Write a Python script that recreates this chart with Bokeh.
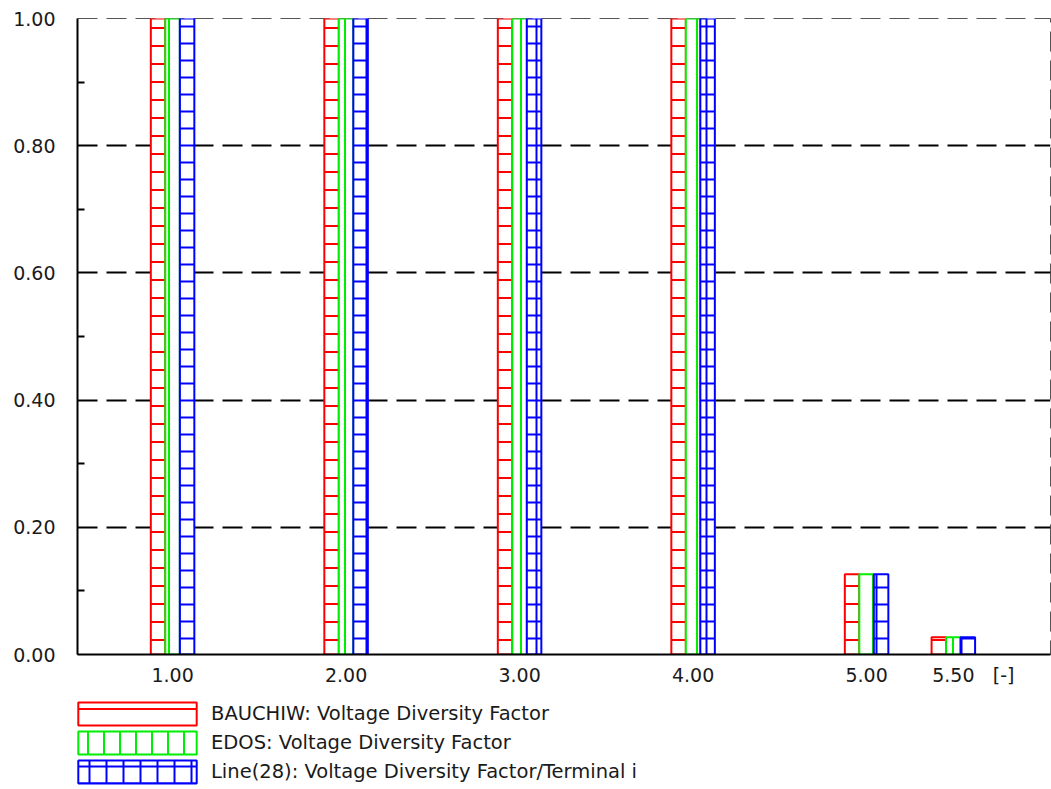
from bokeh.plotting import figure
from bokeh.models import (Range1d, FixedTicker, NumeralTickFormatter, Legend,
                          LegendItem, ColumnDataSource)
from bokeh.layouts import column
from bokeh.transform import dodge
from bokeh.embed import file_html
from bokeh.resources import INLINE

# ---- data ----
x_vals = [1.0, 2.0, 3.0, 4.0, 5.0, 5.5]
bauchiw = [1.0, 1.0, 1.0, 1.0, 0.126, 0.027]
edos = [1.0, 1.0, 1.0, 1.0, 0.126, 0.027]
line28 = [1.0, 1.0, 1.0, 1.0, 0.126, 0.027]
x_tick_vals = [1.0, 2.0, 3.0, 4.0, 5.0, 5.5, 5.79]
x_tick_labels = ["1.00", "2.00", "3.00", "4.00", "5.00", "5.50", "[-]"]
y_tick_vals = [0.0, 0.2, 0.4, 0.6, 0.8, 1.0]
y_minor_vals = [0.1, 0.3, 0.5, 0.7, 0.9]
labels = ["BAUCHIW: Voltage Diversity Factor",
          "EDOS: Voltage Diversity Factor",
          "Line(28): Voltage Diversity Factor/Terminal i"]

FONT = "DejaVu Sans"
FS = "19px"
BW = 0.0836

src = ColumnDataSource(dict(x=x_vals, bauchiw=bauchiw, edos=edos, line28=line28))

styles = [
    dict(col="bauchiw", off=-BW, color="#ff0000", hatch="horizontal_line", scale=18),
    dict(col="edos", off=0.0, color="#00ee00", hatch="vertical_line", scale=16),
    dict(col="line28", off=BW, color="#0000ff", hatch="cross", scale=17),
]


def add_bars(fig, visible=True):
    rs = []
    for s in styles:
        r = fig.vbar(x=dodge("x", s["off"]), top=s["col"], source=src, width=BW,
                     fill_color="white", line_color=s["color"], line_width=2,
                     hatch_pattern=s["hatch"], hatch_color=s["color"],
                     hatch_scale=s["scale"], hatch_weight=2)
        r.visible = visible
        rs.append(r)
    return rs


p = figure(width=1051, height=695, x_range=Range1d(0.452, 6.06),
           y_range=Range1d(0, 1.0), output_backend="svg", toolbar_location=None,
           min_border_top=18, min_border_left=77, min_border_right=1,
           min_border_bottom=41)
p.background_fill_color = "white"
p.border_fill_color = "white"
p.outline_line_color = "#555555"
p.outline_line_width = 1
p.outline_line_dash = "20 9"

add_bars(p)

p.xgrid.visible = False
p.ygrid.grid_line_color = "black"
p.ygrid.grid_line_width = 2
p.ygrid.grid_line_dash = "20 9"

xa = p.xaxis[0]
xa.ticker = FixedTicker(ticks=x_tick_vals)
xa.major_label_overrides = {v: l for v, l in zip(x_tick_vals, x_tick_labels)}
xa.major_tick_in = 0
xa.major_tick_out = 0
xa.minor_tick_line_color = None
xa.axis_line_width = 2
xa.axis_line_color = "black"
xa.major_label_standoff = 9
xa.major_label_text_font = FONT
xa.major_label_text_font_size = FS
xa.major_label_text_color = "#1a1a1a"

ya = p.yaxis[0]
ya.ticker = FixedTicker(ticks=y_tick_vals, minor_ticks=y_minor_vals)
ya.formatter = NumeralTickFormatter(format="0.00")
ya.major_tick_in = 0
ya.major_tick_out = 0
ya.minor_tick_in = 7
ya.minor_tick_out = 0
ya.minor_tick_line_width = 2
ya.minor_tick_line_color = "black"
ya.axis_line_width = 2
ya.axis_line_color = "black"
ya.major_label_standoff = 22
ya.major_label_text_font = FONT
ya.major_label_text_font_size = FS
ya.major_label_text_color = "#1a1a1a"

# ---- legend strip below the chart ----
lf = figure(width=1051, height=94, output_backend="svg", toolbar_location=None,
            x_axis_type=None, y_axis_type=None, min_border=0)
lf.outline_line_color = None
lf.background_fill_color = "white"
lf.border_fill_color = "white"
lrs = add_bars(lf, visible=False)

legend = Legend(items=[LegendItem(label=lab, renderers=[r]) for lab, r in zip(labels, lrs)],
                location=(-14, 3), orientation="vertical",
                glyph_width=148, glyph_height=29, spacing=0, label_standoff=0,
                padding=0, margin=0, border_line_color=None,
                background_fill_alpha=0, inactive_fill_alpha=0,
                label_text_font=FONT, label_text_font_size="19.5px",
                label_text_color="#1a1a1a")
lf.add_layout(legend)

layout = column(p, lf, spacing=0)
open("out.html", "w").write(file_html(layout, INLINE))
